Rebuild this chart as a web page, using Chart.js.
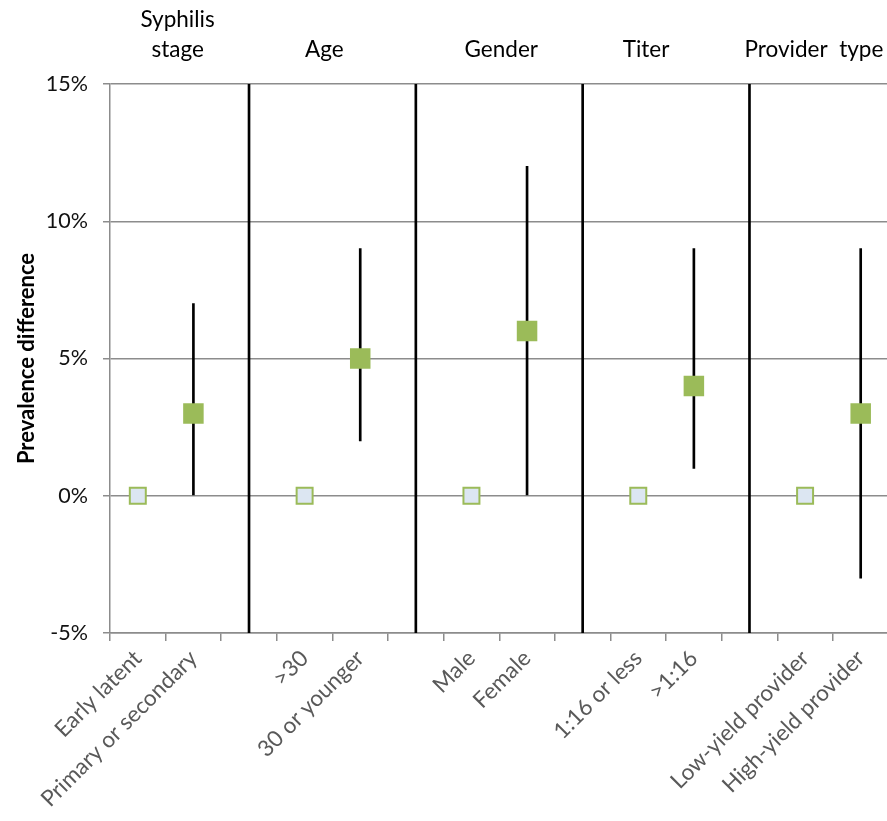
<!DOCTYPE html>
<html>
<head>
<meta charset="utf-8">
<script src="https://cdn.jsdelivr.net/npm/chart.js@4"></script>
<style>
  html, body { margin: 0; padding: 0; background: #fff; overflow: hidden; }
  #wrap { position: relative; width: 903px; height: 821px; }
  canvas { display: block; }
</style>
</head>
<body>
<div id="wrap"><canvas id="chart-prevalence"></canvas></div>
<script>
// one entry per group
const groupNames = ['Syphilis stage', 'Age', 'Gender', 'Titer', 'Provider  type'];
const referenceLabels = ['Early latent', '>30', 'Male', '1:16 or less', 'Low-yield provider'];
const comparisonLabels = ['Primary or secondary', '30 or younger', 'Female', '>1:16', 'High-yield provider'];
const referenceValues = [0, 0, 0, 0, 0];
const estimates = [3, 5, 6, 4, 3];
const ciLower = [0, 2, 0, 1, -3];
const ciUpper = [7, 9, 12, 9, 9];
const yTicks = [-5, 0, 5, 10, 15];

const FONT = 'Lato, "DejaVu Sans", sans-serif';
const GRID = '#8c8c8c';

// build the category slots: ref, comparison, separator, ref, comparison, ...
const labels = [];
const refData = [];
const estData = [];
const ciData = [];
const sepData = [];
groupNames.forEach(function(g, i) {
  labels.push(referenceLabels[i], comparisonLabels[i]);
  refData.push(referenceValues[i], null);
  estData.push(null, estimates[i]);
  ciData.push(null, [ciLower[i], ciUpper[i]]);
  sepData.push(null, null);
  if (i < groupNames.length - 1) {
    labels.push('');
    refData.push(null);
    estData.push(null);
    ciData.push(null);
    sepData.push([yTicks[0], yTicks[yTicks.length - 1]]);
  }
});

const groupTitles = {
  id: 'groupTitles',
  afterDraw(chart, args, opts) {
    const ctx = chart.ctx;
    const x = chart.scales.x;
    ctx.save();
    ctx.fillStyle = '#000';
    ctx.font = '22.5px ' + FONT;
    ctx.textAlign = 'center';
    ctx.textBaseline = 'alphabetic';
    groupNames.forEach(function(name, i) {
      const cx = (x.getPixelForValue(i * 3) + x.getPixelForValue(i * 3 + 1)) / 2 + opts.nudge[i];
      const lines = i === 0 ? ['Syphilis', 'stage'] : [name];
      lines.forEach(function(line, k) {
        ctx.fillText(line, cx, opts.baseline - (lines.length - 1 - k) * 30);
      });
    });
    ctx.restore();
  }
};

const chartElement = document.getElementById('chart-prevalence');

new Chart(chartElement, {
  type: 'bar',
  data: {
    labels: labels,
    datasets: [
      {
        type: 'line',
        data: refData,
        showLine: false,
        pointStyle: 'rect',
        pointRadius: 11.3,
        pointBorderWidth: 2,
        pointBackgroundColor: '#dce6f2',
        pointBorderColor: '#9bbb59',
        order: 0
      },
      {
        type: 'line',
        data: estData,
        showLine: false,
        pointStyle: 'rect',
        pointRadius: 14.5,
        pointBorderWidth: 0,
        pointBackgroundColor: '#9bbb59',
        pointBorderColor: '#9bbb59',
        order: 0
      },
      {
        data: ciData,
        backgroundColor: '#000',
        barThickness: 2,
        grouped: false,
        order: 1
      },
      {
        data: sepData,
        backgroundColor: '#000',
        barThickness: 2,
        grouped: false,
        order: 1
      }
    ]
  },
  options: {
    responsive: true,
    maintainAspectRatio: false,
    animation: false,
    layout: { padding: { top: 84, right: 0, bottom: 0, left: 0 } },
    plugins: {
      legend: { display: false },
      tooltip: { enabled: false },
      groupTitles: { baseline: 57, nudge: [12, -8, 2, -20, -19] }
    },
    scales: {
      x: {
        offset: true,
        grid: {
          offset: true,
          drawOnChartArea: false,
          color: GRID,
          lineWidth: 1.5,
          tickLength: 8
        },
        border: { color: GRID, width: 1.5 },
        ticks: {
          autoSkip: false,
          maxRotation: 45,
          minRotation: 45,
          padding: 4,
          color: '#595959',
          font: { family: FONT, size: 22.5 }
        },
        afterFit: function(scale) {
          scale.height = 188;
          scale.paddingLeft = 0;
          scale.paddingRight = 0;
        }
      },
      y: {
        min: yTicks[0],
        max: yTicks[yTicks.length - 1],
        afterBuildTicks: function(scale) {
          scale.ticks = yTicks.map(function(v) { return { value: v }; });
        },
        grid: { color: GRID, lineWidth: 1.5, tickLength: 7 },
        border: { color: GRID, width: 1.5 },
        ticks: {
          padding: 15,
          color: '#111',
          font: { family: FONT, size: 21.5 },
          callback: function(v) { return v + '%'; }
        },
        title: {
          display: true,
          text: 'Prevalence difference',
          color: '#000',
          font: { family: FONT, size: 22, weight: 'bold' },
          padding: { top: 14, bottom: 0 }
        },
        afterFit: function(scale) { scale.width = 110; }
      }
    }
  },
  plugins: [groupTitles]
});
</script>
</body>
</html>
